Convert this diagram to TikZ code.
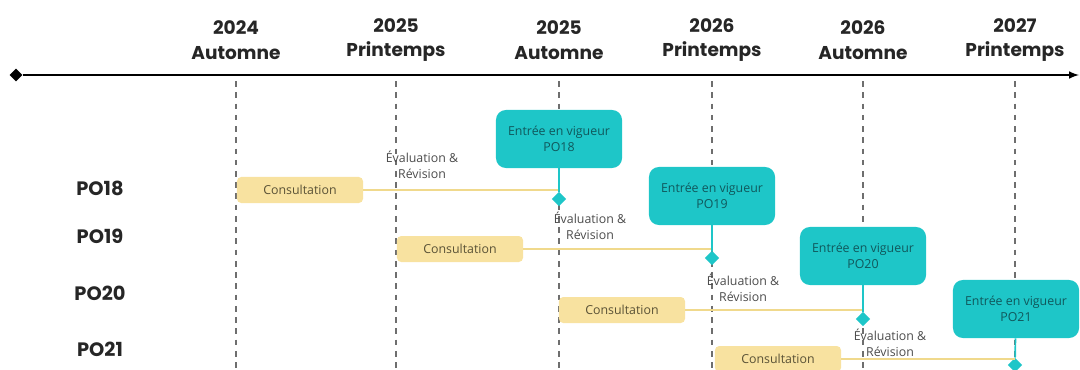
\documentclass[tikz,border=0pt]{standalone}
\usepackage{fontspec}
\setmainfont{Open Sans}
\newfontfamily\headfont{Poppins}
\usepackage{tikz}
\usetikzlibrary{calc}
\usetikzlibrary{positioning}
\usetikzlibrary{shapes.geometric}

\definecolor{vigueurfill}{HTML}{1EC6C8}
\definecolor{vigueurtext}{HTML}{10585C}
\definecolor{consultfill}{HTML}{F8E2A0}
\definecolor{consulttext}{HTML}{5A5236}
\definecolor{feedline}{HTML}{F0D98C}
\definecolor{gridgray}{HTML}{6E6E6E}
\definecolor{evalgray}{HTML}{4C4C4C}

\tikzset{
	period/.style={font=\headfont\bfseries\fontsize{13.2}{17.5}\selectfont,align=center,text=black!85},
	rowlabel/.style={font=\headfont\bfseries\fontsize{13.8}{16}\selectfont,text=black!85},
	gridline/.style={gridgray,line width=0.8pt,dash pattern=on 4pt off 4pt},
	consult/.style={fill=consultfill,text=consulttext,rounded corners=3pt,minimum width=3.15cm,minimum height=0.65cm,inner sep=0pt,font=\fontsize{8.8}{11}\selectfont},
	vigueur/.style={fill=vigueurfill,text=vigueurtext,rounded corners=7pt,minimum width=3.15cm,minimum height=1.45cm,inner sep=0pt,align=center,font=\fontsize{8.8}{11.5}\selectfont},
	evaltext/.style={text=evalgray,align=center,inner sep=0pt,font=\fontsize{8.8}{11.5}\selectfont},
	gem/.style={diamond,fill=vigueurfill,inner sep=0pt,minimum size=0.36cm},
	stem/.style={vigueurfill,line width=1.2pt},
	feed/.style={feedline,line width=1.1pt}
}

\begin{document}
\begin{tikzpicture}[x=0.025cm,y=-0.025cm]
	\useasboundingbox (0,0) rectangle (1080,369);
	%print time axis
	\node[diamond,fill=black,inner sep=0pt,minimum size=0.32cm] (start) at (16,75) {};
	\coordinate (end) at (1079,75);
	\draw[line width=1.4pt,-latex] (start)--(end);
	%print periods and dashed lines
	\node[period] (h1) at (236,40) {2024\\Automne};
	\node[period] (h2) at (396,40) {2025\\Printemps};
	\node[period] (h3) at (559,40) {2025\\Automne};
	\node[period] (h4) at (712,40) {2026\\Printemps};
	\node[period] (h5) at (863,40) {2026\\Automne};
	\node[period] (h6) at (1015,40) {2027\\Printemps};
	\coordinate (t1) at (236,81); \coordinate (b1) at (236,369);
	\coordinate (t2) at (396,81); \coordinate (b2) at (396,369);
	\coordinate (t3) at (559,81); \coordinate (b3) at (559,369);
	\coordinate (t4) at (712,81); \coordinate (b4) at (712,369);
	\coordinate (t5) at (863,81); \coordinate (b5) at (863,369);
	\coordinate (t6) at (1015,81); \coordinate (b6) at (1015,369);
	\draw[gridline] (t1)--(b1);
	\draw[gridline] (t2)--(b2);
	\draw[gridline] (t3)--(b3);
	\draw[gridline] (t4)--(b4);
	\draw[gridline] (t5)--(b5);
	\draw[gridline] (t6)--(b6);
	%print row labels
	\node[rowlabel] (po18) at (100,188) {PO18};
	\node[rowlabel] (po19) at (100,236) {PO19};
	\node[rowlabel] (po20) at (100,293) {PO20};
	\node[rowlabel] (po21) at (100,349) {PO21};
	%PO18
	\node[consult] (c18) at (300,190) {Consultation};
	\node[vigueur] (v18) at (559,139) {Entrée en vigueur\\PO18};
	\node[gem] (d18) at (559,199) {};
	\node[evaltext] (e18) at (422,165) {Évaluation \&\\Révision};
	\draw[feed] (c18.east)--(c18.east -| d18);
	\draw[stem] (v18)--(d18);
	%PO19
	\node[consult] (c19) at (460,249) {Consultation};
	\node[vigueur] (v19) at (712,196) {Entrée en vigueur\\PO19};
	\node[gem] (d19) at (712,258) {};
	\node[evaltext] (e19) at (590,226) {Évaluation \&\\Révision};
	\draw[feed] (c19.east)--(c19.east -| d19);
	\draw[stem] (v19)--(d19);
	%PO20
	\node[consult] (c20) at (622,310) {Consultation};
	\node[vigueur] (v20) at (863,256) {Entrée en vigueur\\PO20};
	\node[gem] (d20) at (863,319) {};
	\node[evaltext] (e20) at (743,288) {Évaluation \&\\Révision};
	\draw[feed] (c20.east)--(c20.east -| d20);
	\draw[stem] (v20)--(d20);
	%PO21
	\node[consult] (c21) at (778,359) {Consultation};
	\node[vigueur] (v21) at (1016,309) {Entrée en vigueur\\PO21};
	\node[gem] (d21) at (1015,365) {};
	\node[evaltext] (e21) at (890,343) {Évaluation \&\\Révision};
	\draw[feed] (c21.east)--(c21.east -| d21);
	\draw[stem] (v21)--(d21);
\end{tikzpicture}
\end{document}
